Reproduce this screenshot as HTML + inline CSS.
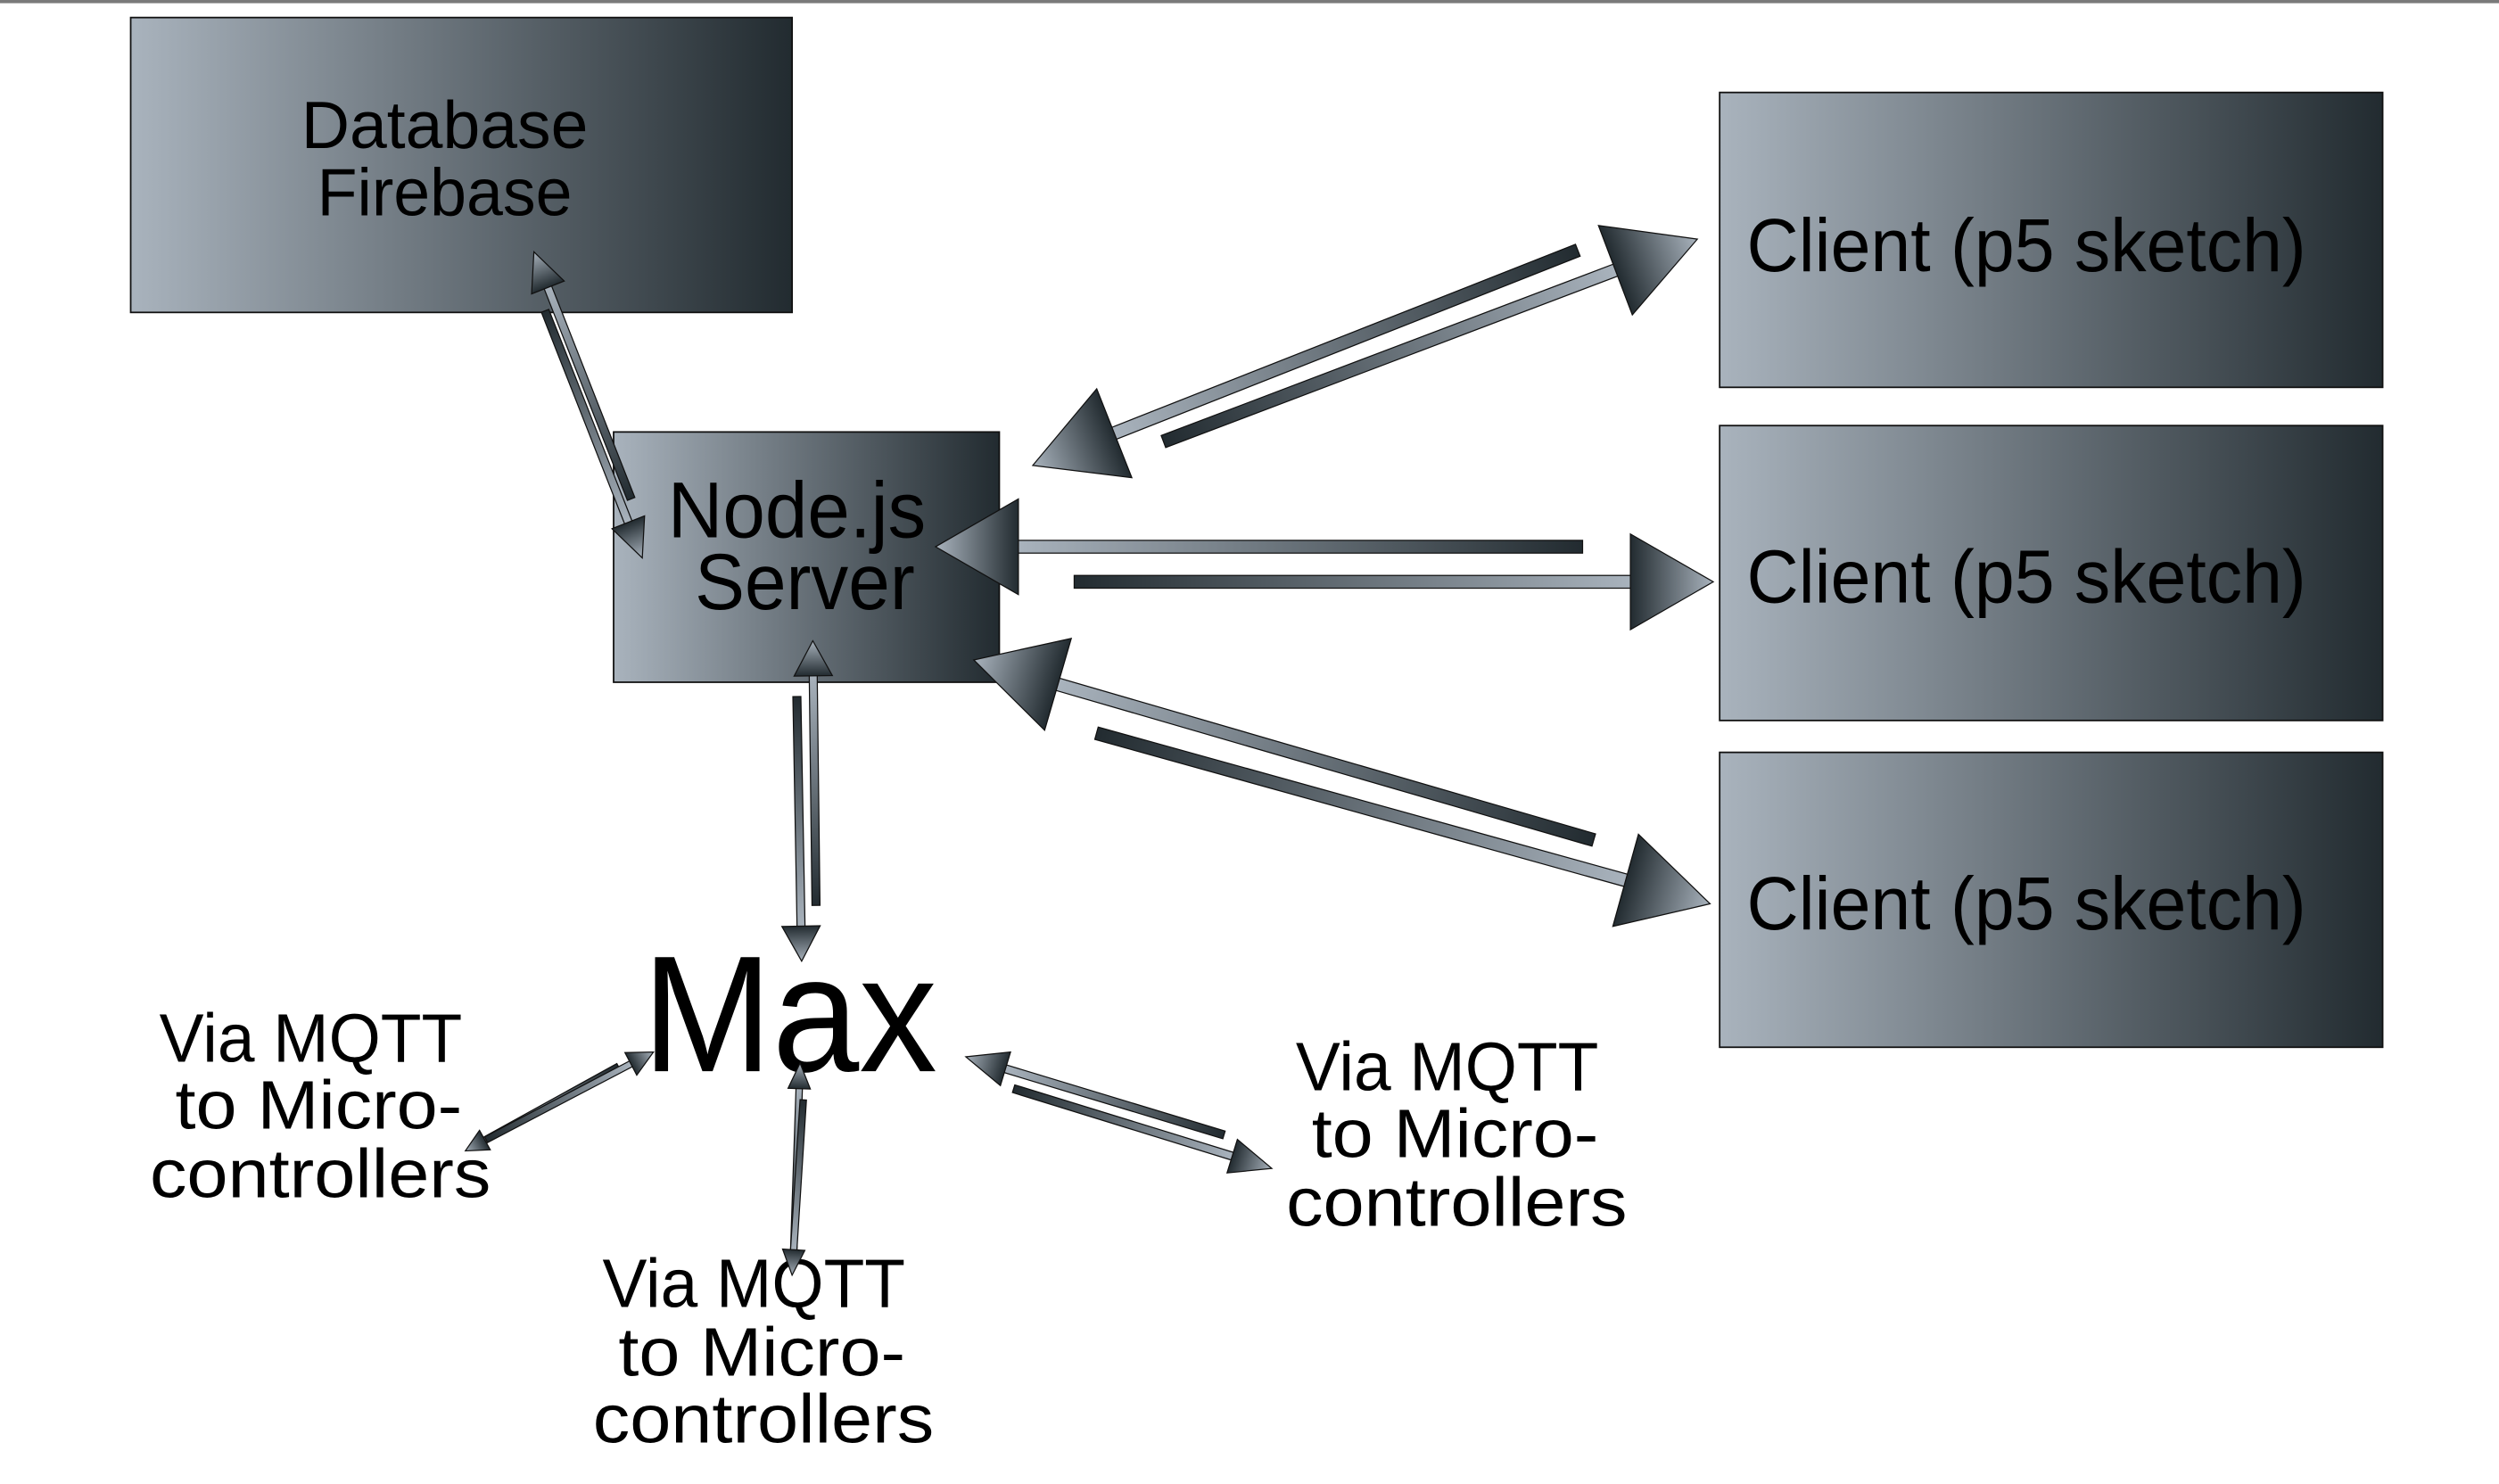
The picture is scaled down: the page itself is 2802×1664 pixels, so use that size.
<!DOCTYPE html>
<html><head><meta charset="utf-8"><style>
html,body{margin:0;padding:0;background:#fff;}
svg{display:block;}
text{font-family:"Liberation Sans","DejaVu Sans",sans-serif;fill:#000;}
</style></head><body>
<svg id="s" width="2802" height="1664" viewBox="0 0 1568 931" preserveAspectRatio="none" xmlns="http://www.w3.org/2000/svg">
<defs>
<linearGradient id="g" x1="0" y1="0" x2="1" y2="0"><stop offset="0" stop-color="#a9b3bd"/><stop offset="1" stop-color="#222b30"/></linearGradient>
<linearGradient id="ga" x1="0" y1="0" x2="1" y2="0"><stop offset="0" stop-color="#222b30"/><stop offset="1" stop-color="#a9b3bd"/></linearGradient>
</defs>
<rect x="0" y="0" width="1568" height="2" fill="#7a7a7a"/>
<rect x="82" y="11" width="415" height="185" fill="url(#g)" stroke="#111" stroke-width="1"/>
<rect x="385" y="271" width="242" height="157" fill="url(#g)" stroke="#111" stroke-width="1"/>
<rect x="1079" y="58" width="416" height="185" fill="url(#g)" stroke="#111" stroke-width="1"/>
<rect x="1079" y="267" width="416" height="185" fill="url(#g)" stroke="#111" stroke-width="1"/>
<rect x="1079" y="472" width="416" height="185" fill="url(#g)" stroke="#111" stroke-width="1"/>
<g lengthAdjust="spacingAndGlyphs">
<text x="279" y="93" font-size="42" text-anchor="middle" textLength="180" lengthAdjust="spacingAndGlyphs">Database</text>
<text x="279" y="135" font-size="42" text-anchor="middle" textLength="160" lengthAdjust="spacingAndGlyphs">Firebase</text>
<text x="500" y="337" font-size="50" text-anchor="middle" textLength="162" lengthAdjust="spacingAndGlyphs">Node.js</text>
<text x="505" y="382" font-size="50" text-anchor="middle" textLength="138" lengthAdjust="spacingAndGlyphs">Server</text>
<text x="1096" y="170" font-size="47" textLength="351" lengthAdjust="spacingAndGlyphs">Client (p5 sketch)</text>
<text x="1096" y="378" font-size="47" textLength="351" lengthAdjust="spacingAndGlyphs">Client (p5 sketch)</text>
<text x="1096" y="583" font-size="47" textLength="351" lengthAdjust="spacingAndGlyphs">Client (p5 sketch)</text>
<text x="403" y="672" font-size="104" textLength="185" lengthAdjust="spacingAndGlyphs">Max</text>
</g>
<g font-size="43" text-anchor="middle">
<text x="195" y="666" textLength="190" lengthAdjust="spacingAndGlyphs">Via MQTT</text>
<text x="200" y="708" textLength="180" lengthAdjust="spacingAndGlyphs">to Micro-</text>
<text x="201" y="751" textLength="214" lengthAdjust="spacingAndGlyphs">controllers</text>
<text x="473" y="820" textLength="190" lengthAdjust="spacingAndGlyphs">Via MQTT</text>
<text x="478" y="863" textLength="180" lengthAdjust="spacingAndGlyphs">to Micro-</text>
<text x="479" y="905" textLength="214" lengthAdjust="spacingAndGlyphs">controllers</text>
<text x="908" y="684" textLength="190" lengthAdjust="spacingAndGlyphs">Via MQTT</text>
<text x="913" y="726" textLength="180" lengthAdjust="spacingAndGlyphs">to Micro-</text>
<text x="914" y="769" textLength="214" lengthAdjust="spacingAndGlyphs">controllers</text>
</g>
<g id="arrows"></g>
</svg>
<script>
var NS="http://www.w3.org/2000/svg",G=document.getElementById("arrows");
function arrow(tx,ty,hx,hy,w,hl,hw,nohead){
 var dx=hx-tx,dy=hy-ty,L=Math.sqrt(dx*dx+dy*dy),a=Math.atan2(dy,dx)*180/Math.PI;
 var g=document.createElementNS(NS,"g");g.setAttribute("transform","translate("+tx+","+ty+") rotate("+a+")");
 var r=document.createElementNS(NS,"rect");var bl=nohead?L:L-hl+1;
 r.setAttribute("x",0);r.setAttribute("y",-w/2);r.setAttribute("width",bl);r.setAttribute("height",w);
 r.setAttribute("fill","url(#ga)");r.setAttribute("stroke","#111");r.setAttribute("stroke-width","0.7");g.appendChild(r);
 if(!nohead){var p=document.createElementNS(NS,"polygon");
 p.setAttribute("points",(L-hl)+","+(-hw/2)+" "+L+",0 "+(L-hl)+","+(hw/2));
 p.setAttribute("fill","url(#ga)");p.setAttribute("stroke","#111");p.setAttribute("stroke-width","0.7");g.appendChild(p);}
 G.appendChild(g);}
arrow(396,313,335,158,5,24,22);arrow(342,195,403,350,5,24,22);
arrow(990,157,648,292,8,55,60);arrow(730,277,1065,150,8,55,60);
arrow(993,343,587,343,8,52,60);arrow(674,365,1075,365,8,52,60);
arrow(1000,527,611,414,8,55,60);arrow(688,460,1073,567,8,55,60);
arrow(512,568,510,402,5,22,24);arrow(500,437,503,603,5,22,24);
arrow(388,669,292,722,4,14,14);arrow(305,715,410,660,4,16,16);
arrow(498,785,502,667,4,16,14);arrow(504,690,497,800,4,16,14);
arrow(768,712,606,663,5,26,22);arrow(636,683,798,733,5,26,22);
</script>
</body></html>
